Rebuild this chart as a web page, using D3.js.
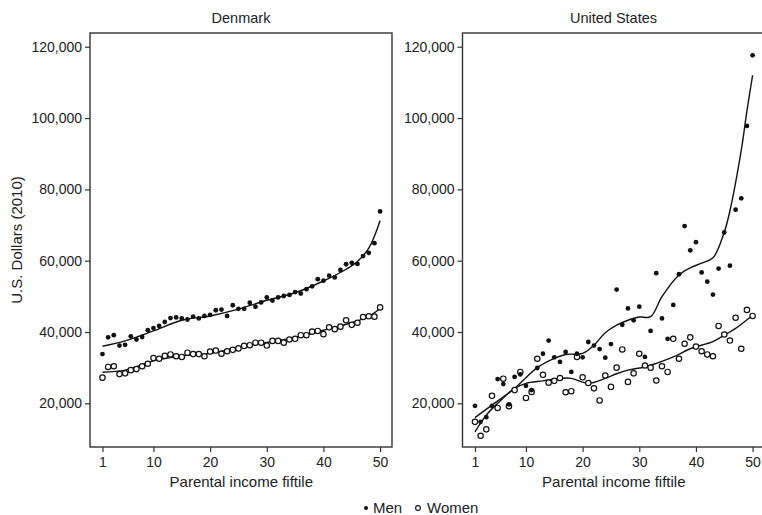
<!DOCTYPE html>
<html lang="en">
<head>
<meta charset="utf-8">
<title>Earnings by parental income fiftile</title>
<script src="https://d3js.org/d3.v7.min.js"></script>
<style>
  body { margin: 0; background: #fff; }
  svg { font-family: "Liberation Sans", Arial, sans-serif; }
  .axis text { font-size: 14px; fill: #222; }
  .axis line { stroke: #333; stroke-width: 1.2; }
  .frame { fill: none; stroke: #333; stroke-width: 1.4; }
  .fit { fill: none; stroke: #111; stroke-width: 1.4; }
</style>
</head>
<body>
<script>
// ---- data ----
const fiftiles = d3.range(1, 51);
const xTicks = [1, 10, 20, 30, 40, 50];
const yTicks = [20000, 40000, 60000, 80000, 100000, 120000];
const countries = ["Denmark", "United States"];

const dkMen = [33800, 38500, 39100, 36200, 36400, 38800, 37900, 38600, 40500, 41100,
  41700, 42800, 43900, 44100, 43800, 43500, 44300, 43800, 44500, 44800,
  46100, 46300, 44500, 47500, 46500, 46500, 48200, 47100, 48300, 49700,
  48800, 49700, 50100, 50400, 51200, 50800, 52000, 52800, 54800, 54400,
  55800, 55300, 57400, 59000, 59400, 59100, 61300, 62200, 64900, 73800];
const dkWomen = [27200, 30200, 30400, 28200, 28400, 29300, 29600, 30400, 31100, 32700,
  32500, 33300, 33700, 33200, 33000, 34200, 33800, 33800, 33200, 34500,
  34800, 33900, 34600, 35000, 35400, 36100, 36300, 37000, 37000, 36200,
  37500, 37500, 37000, 37900, 38100, 39100, 39100, 40100, 40300, 39400,
  41300, 40800, 41500, 43300, 42000, 42600, 44200, 44400, 44300, 46900];
const usMen = [19300, 14800, 16100, 19300, 26800, 25400, 19700, 27400, 28100, 24900,
  23700, 29900, 33900, 37600, 32900, 31600, 34400, 28800, 33900, 32900,
  37200, 36200, 35200, 32800, 36600, 51900, 42000, 46600, 43300, 47100,
  33000, 40300, 56500, 43800, 38100, 47600, 56200, 69700, 62900, 65200,
  56700, 54100, 50500, 57800, 67900, 58600, 74300, 77500, 97800, 117600];
const usWomen = [14800, 10900, 12700, 22100, 18700, 26900, 19200, 23700, 28800, 21500,
  23200, 32500, 28000, 25800, 26300, 27100, 23100, 23400, 33000, 27300,
  25700, 24200, 20800, 27800, 24600, 30000, 35100, 26000, 28400, 33900,
  30600, 30000, 26400, 30400, 28800, 38100, 32500, 36700, 38500, 35900,
  34600, 33700, 33200, 41700, 39300, 37600, 44000, 35300, 46200, 44500];

// smoothed fit lines, [fiftile, dollars]
const dkMenFit = [[1, 36000], [5, 37500], [10, 40300], [15, 43300], [20, 44500], [25, 46400],
  [30, 48900], [35, 51000], [40, 54300], [44, 57600], [46, 59800], [48, 63500], [50, 71200]];
const dkWomenFit = [[1, 28700], [5, 29300], [10, 31900], [15, 33300], [20, 34000], [25, 35700],
  [30, 37100], [35, 38500], [40, 40500], [45, 42600], [48, 44400], [50, 46600]];
const usMenFit = [[1, 16000], [4, 19500], [8, 24200], [12, 30000], [15, 32600], [17, 33700],
  [20, 34000], [22, 36300], [24, 39800], [26, 41900], [28, 43300], [30, 44200], [32, 44300],
  [34, 49900], [37, 56000], [39, 58000], [41, 59300], [43, 60800], [45, 68000], [46, 74000],
  [48, 91000], [49, 102000], [50, 112000]];
const usWomenFit = [[1, 12000], [3, 16700], [5, 20000], [8, 24200], [10, 25600], [13, 26300],
  [16, 27000], [18, 27000], [21, 25600], [24, 27000], [26, 28300], [28, 29300], [31, 30200],
  [33, 31200], [36, 33000], [39, 35300], [43, 37300], [45, 39100], [47, 41000], [50, 44700]];

// ---- layout ----
const w = 762, h = 515;
const panelW = 302;
const plotTop = 33, plotBottom = 447;

const svg = d3.select("body").append("svg")
  .attr("width", w)
  .attr("height", h);

const panels = [
  { name: countries[0], left: 90, men: dkMen, women: dkWomen, menFit: dkMenFit, womenFit: dkWomenFit },
  { name: countries[1], left: 462.5, men: usMen, women: usWomen, menFit: usMenFit, womenFit: usWomenFit }
];

const yScale = d3.scaleLinear()
  .domain([7750, 123850])
  .range([plotBottom, plotTop]);

panels.forEach(p => {
  const xScale = d3.scaleLinear()
    .domain([-1.2, 52.1])
    .range([p.left, p.left + panelW]);

  const g = svg.append("g");

  // left axis
  g.append("g")
    .attr("class", "axis")
    .attr("transform", "translate(" + p.left + ",0)")
    .call(d3.axisLeft(yScale).tickValues(yTicks).tickFormat(d3.format(",")).tickSize(5).tickPadding(3))
    .call(a => a.select(".domain").remove());

  // bottom axis
  g.append("g")
    .attr("class", "axis")
    .attr("transform", "translate(0," + plotBottom + ")")
    .call(d3.axisBottom(xScale).tickValues(xTicks).tickSize(5).tickPadding(5))
    .call(a => a.select(".domain").remove());

  g.append("rect")
    .attr("class", "frame")
    .attr("x", p.left)
    .attr("y", plotTop)
    .attr("width", panelW)
    .attr("height", plotBottom - plotTop);

  // panel title
  g.append("text")
    .attr("x", p.left + panelW / 2)
    .attr("y", 23)
    .attr("text-anchor", "middle")
    .style("font-size", "14.5px")
    .style("fill", "#222")
    .text(p.name);

  // x title
  g.append("text")
    .attr("x", xScale(25.5))
    .attr("y", 487)
    .attr("text-anchor", "middle")
    .style("font-size", "15px")
    .style("fill", "#222")
    .text("Parental income fiftile");

  const line = d3.line()
    .x(d => xScale(d[0]))
    .y(d => yScale(d[1]))
    .curve(d3.curveCatmullRom);

  g.append("path").attr("class", "fit").attr("d", line(p.womenFit));
  g.append("path").attr("class", "fit").attr("d", line(p.menFit));

  // women - open circles
  g.selectAll(".women")
    .data(p.women)
    .join("circle")
    .attr("class", "women")
    .attr("cx", (d, i) => xScale(fiftiles[i]))
    .attr("cy", d => yScale(d))
    .attr("r", 2.7)
    .attr("fill", "#fff")
    .attr("stroke", "#111")
    .attr("stroke-width", 1.2);

  // men - filled dots
  g.selectAll(".men")
    .data(p.men)
    .join("circle")
    .attr("class", "men")
    .attr("cx", (d, i) => xScale(fiftiles[i]))
    .attr("cy", d => yScale(d))
    .attr("r", 2.4)
    .attr("fill", "#111");
});

// y title
svg.append("text")
  .attr("transform", "translate(22," + (plotTop + plotBottom) / 2 + ") rotate(-90)")
  .attr("text-anchor", "middle")
  .style("font-size", "15px")
  .style("fill", "#222")
  .text("U.S. Dollars (2010)");

// legend
const legend = svg.append("g").attr("transform", "translate(0,513)");
legend.append("circle").attr("cx", 366).attr("cy", -5).attr("r", 2).attr("fill", "#111");
legend.append("text").attr("x", 373).attr("y", 0).style("font-size", "15px").style("fill", "#222").text("Men");
legend.append("circle").attr("cx", 418).attr("cy", -5).attr("r", 2.4)
  .attr("fill", "#fff").attr("stroke", "#111").attr("stroke-width", 1.1);
legend.append("text").attr("x", 427).attr("y", 0).style("font-size", "15px").style("fill", "#222").text("Women");
</script>
</body>
</html>
